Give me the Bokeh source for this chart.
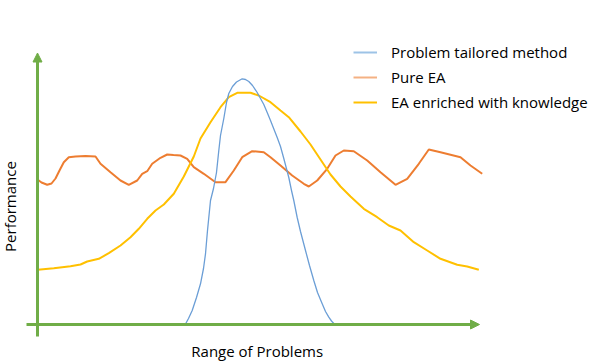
from bokeh.plotting import figure
from bokeh.models import Range1d, Arrow, NormalHead, Label, Legend, LegendItem, ColumnDataSource
from bokeh.embed import file_html
from bokeh.resources import INLINE
import math

# ---- data (chart units: x along "Range of Problems", y = performance) ----
tailored_x = [148, 151, 154.7, 159, 163, 166, 168, 170, 173, 176, 179, 181.3, 183, 186.3, 189, 191.3, 195, 199,
              204.7, 208, 211.3, 215, 219.7, 223, 226.3, 229.7, 233, 239.7, 243, 246.3, 251.3, 254, 256.3, 259.7,
              263, 268, 272, 276.3, 280, 284.7, 288, 291.3, 294, 296.3]
tailored_y = [0.5, 6, 14, 27, 40.7, 56, 70.7, 94, 124, 136, 152, 174, 189, 206, 222, 231, 238, 242.5,
              245.7, 245, 243, 239, 232, 226, 220, 212, 204, 187, 178, 166, 147, 134, 124, 107,
              93, 74, 59, 44, 32, 20.7, 13, 7.3, 3.5, 1]

pure_x = [0.3, 4, 9.7, 14, 18, 22, 26.3, 31.3, 38, 48, 58, 63, 73, 83, 91.3, 99.7, 104.7, 109.7, 114.7, 123,
          129.7, 136, 143, 149.7, 156.3, 166.3, 178, 188, 196.3, 204.7, 214.7, 226.3, 233, 243, 254.7, 266.3,
          271.3, 279.7, 289.7, 298, 306.3, 316.3, 329.7, 343, 358, 369.7, 381.3, 391.3, 403, 423, 433, 444.7]
pure_y = [144.7, 142, 139.7, 141, 146, 154, 162.3, 167.3, 168, 168.5, 168, 160.7, 152.3, 144, 139.7, 144, 150.7,
          153.3, 160.7, 166.7, 170, 169.5, 169, 165.7, 157.3, 150.7, 142.3, 142.3, 154, 167.3, 173.3, 172.3,
          167.3, 159, 149, 140.7, 138, 144, 155.7, 169, 174, 173.3, 164, 152.3, 139.7, 145.7, 160.7, 175,
          172.3, 167.3, 159, 150.7]

enriched_x = [0.3, 16.3, 33, 43, 49.7, 61.3, 71.3, 83, 93, 101.3, 109.7, 118, 126.3, 136.3, 146.3, 156.3, 163,
              173, 183, 191.3, 199.7, 213, 221.3, 233, 243, 251.3, 263, 273, 283, 293, 303, 313, 326.3, 339.7,
              351.3, 363, 376.3, 389.7, 403, 419.7, 429.7, 441.3]
enriched_y = [54.7, 56.3, 58.3, 60, 63, 65.7, 71.3, 79, 87.3, 95.7, 105.7, 114, 120, 130.7, 148, 168, 186,
              202.3, 217.3, 227.3, 231.7, 231.7, 229, 222.3, 214, 207.3, 193, 180, 165, 150, 138, 128, 115.7,
              107.3, 99, 94, 82.3, 74, 65.7, 59.7, 58, 54.7]

series_names = ["Problem tailored method", "Pure EA", "EA enriched with knowledge"]
x_title = "Range of Problems"
y_title = "Performance"

GREEN = "#70AD47"
BLUE = "#6B9ED6"
ORANGE = "#ED7D31"
YELLOW = "#FFC000"
FONT = "Open Sans"

p = figure(width=600, height=362, output_backend="svg", toolbar_location=None,
           x_range=Range1d(-37, 563), y_range=Range1d(-38, 324),
           min_border=0, min_border_left=0, min_border_right=0, min_border_top=0, min_border_bottom=0)
p.axis.visible = False
p.grid.visible = False
p.outline_line_color = None
p.background_fill_color = "white"

# axes with arrow heads
p.add_layout(Arrow(end=NormalHead(size=9, fill_color=GREEN, line_color=GREEN, line_width=1),
                   x_start=0, y_start=-12, x_end=0, y_end=271.5,
                   line_color=GREEN, line_width=3))
p.add_layout(Arrow(end=NormalHead(size=9, fill_color=GREEN, line_color=GREEN, line_width=1),
                   x_start=-11, y_start=0, x_end=442, y_end=0,
                   line_color=GREEN, line_width=3))

p.line(pure_x, pure_y, line_color=ORANGE, line_width=2)
p.line(enriched_x, enriched_y, line_color=YELLOW, line_width=2)
p.line(tailored_x, tailored_y, line_color=BLUE, line_width=1.3)

# legend proxies (pale legend lines as in the reference); NaN data so nothing is drawn in the plot
nan = float("nan")
r1 = p.line(x="x", y="y", source=ColumnDataSource(dict(x=[nan], y=[nan])), line_color="#9DC3E6", line_width=2)
r2 = p.line(x="x", y="y", source=ColumnDataSource(dict(x=[nan], y=[nan])), line_color="#F4B183", line_width=2)
r3 = p.line(x="x", y="y", source=ColumnDataSource(dict(x=[nan], y=[nan])), line_color=YELLOW, line_width=2)

legend = Legend(items=[LegendItem(label=series_names[0], renderers=[r1]),
                       LegendItem(label=series_names[1], renderers=[r2]),
                       LegendItem(label=series_names[2], renderers=[r3])],
                location=(353, 250), orientation="vertical",
                glyph_width=24, glyph_height=20, label_height=20, label_standoff=14,
                spacing=5, padding=0, margin=0,
                border_line_alpha=0, background_fill_alpha=0,
                label_text_font=FONT, label_text_font_size="15px", label_text_color="#000000")
p.add_layout(legend)

p.add_layout(Label(x=219.7, y=-26.5, text=x_title, text_align="center", text_baseline="middle",
                   text_font=FONT, text_font_size="15px", text_color="#000000"))
p.add_layout(Label(x=-27.5, y=118, text=y_title, angle=math.pi / 2, text_align="center", text_baseline="middle",
                   text_font=FONT, text_font_size="15px", text_color="#000000"))

open("out.html", "w").write(file_html(p, INLINE))
